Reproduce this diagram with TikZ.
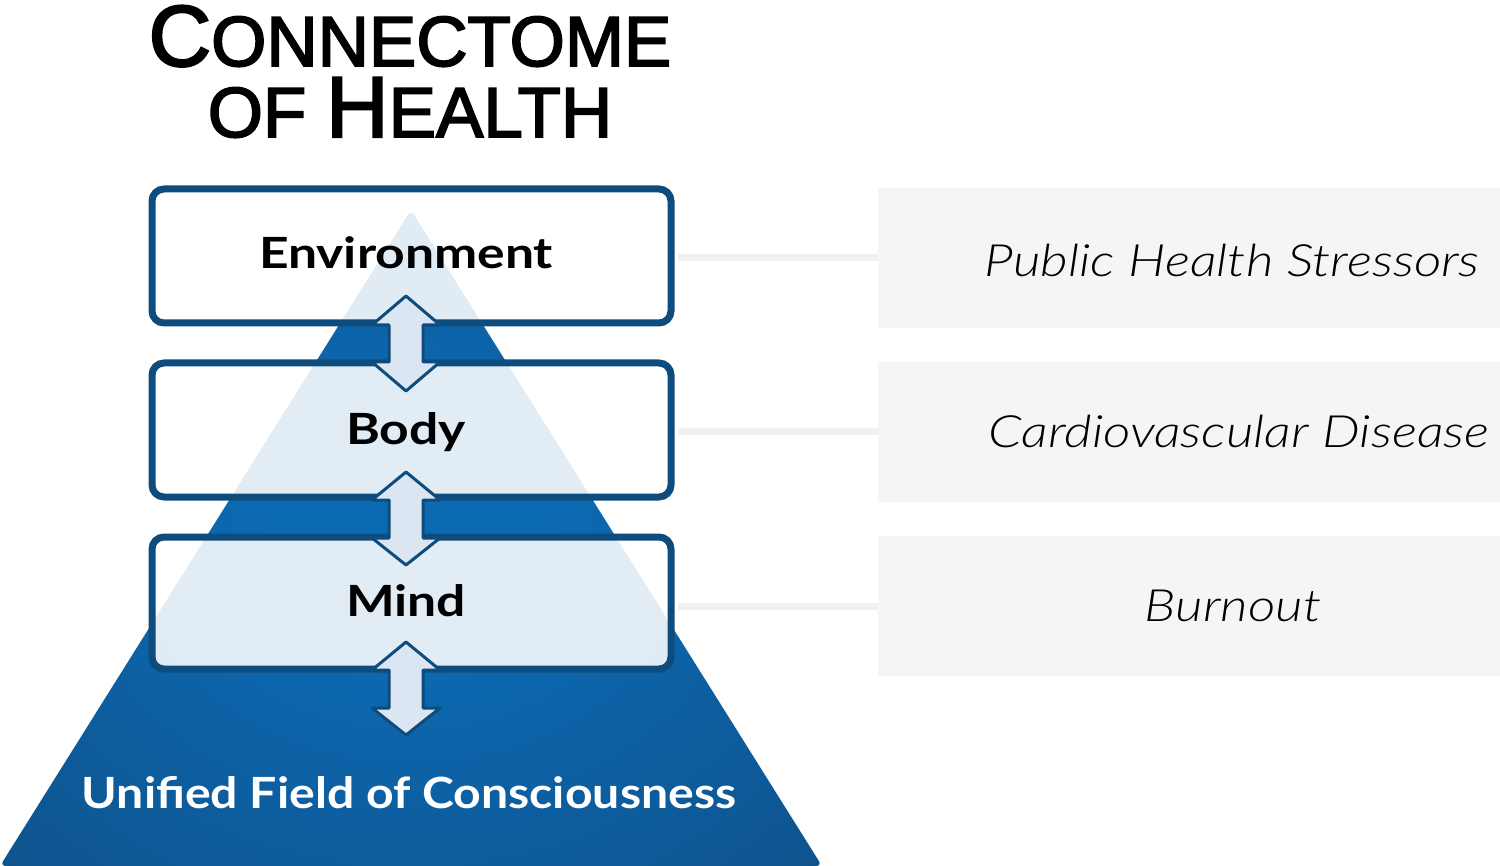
\documentclass[tikz,border=0pt]{standalone}
\usepackage{fontspec}
\setmainfont{Lato}
\newfontfamily\titlefont{Liberation Sans}[BoldFont={Liberation Sans}, BoldFeatures={FakeBold=2.5}]
\newfontfamily\lightit{Lato Light Italic}
\definecolor{navy}{HTML}{0F4C7E}
\definecolor{pin}{HTML}{0C6AB3}
\definecolor{pmid}{HTML}{0F4F87}
\definecolor{pout}{HTML}{12416B}
\definecolor{arrfill}{HTML}{DCE6F3}
\definecolor{grayfill}{HTML}{F4F5F7}
\definecolor{connc}{HTML}{EFF1F3}
\pgfdeclareradialshading{pyrshade}{\pgfpoint{0bp}{0bp}}{color(0bp)=(pin); color(8bp)=(pin); color(40bp)=(pmid); color(72bp)=(pout)}
\newcommand\hstretch[2]{\scalebox{#1}[1]{#2}}
\tikzset{
  layerbox/.style={draw=navy, line width=7pt, rounded corners=12pt, fill=white, fill opacity=0.88, text opacity=1, inner sep=0pt},
  labeltxt/.style={font=\bfseries\fontsize{43}{45}\selectfont, text=black, anchor=base, inner sep=0pt},
  grayrect/.style={fill=grayfill, draw=none, inner sep=0pt},
  sidetxt/.style={font=\lightit\fontsize{44.5}{46}\selectfont, text=black, anchor=base, inner sep=0pt},
  connline/.style={draw=connc, line width=7pt},
  arrowsty/.style={draw=navy, fill=arrfill, line width=3pt, line join=round},
  titletxt/.style={anchor=base, inner sep=0pt, font=\titlefont\bfseries}
}
\newcommand\dblarr[5]{\draw[arrowsty] (#1,#2) -- (#1+34,#3) -- (#1+17,#3) -- (#1+17,#4) -- (#1+34,#4) -- (#1,#5) -- (#1-34,#4) -- (#1-17,#4) -- (#1-17,#3) -- (#1-34,#3) -- cycle;}
\begin{document}
\begin{tikzpicture}[x=1pt,y=-1pt]
\useasboundingbox (0,0) rectangle (1500,866);
% title
\node[titletxt] (title1) at (410,66) {\fontsize{86.6}{88}\selectfont C\fontsize{71}{72}\selectfont ONNECTOME};
\node[titletxt] (title2) at (410,137) {\fontsize{71}{72}\selectfont OF \fontsize{86.6}{88}\selectfont H\fontsize{71}{72}\selectfont EALTH};
% pyramid
\shade[shading=pyrshade, rounded corners=6pt] (411,210) -- (822,866) -- (0,866) -- cycle;
% right boxes
\node[grayrect, minimum width=622pt, minimum height=140pt] (r1) at (1189,258) {};
\node[grayrect, minimum width=622pt, minimum height=140pt] (r2) at (1189,432) {};
\node[grayrect, minimum width=622pt, minimum height=140pt] (r3) at (1189,606) {};
% layer boxes
\node[layerbox, minimum width=519pt, minimum height=134pt] (env) at (411.5,256) {};
\node[layerbox, minimum width=519pt, minimum height=134pt] (body) at (411.5,430) {};
\node[layerbox, minimum width=519pt, minimum height=132pt] (mind) at (411.5,603) {};
% connectors
\draw[connline] (r1.west -| env.east) ++(3.5,0) -- (r1.west);
\draw[connline] (r2.west -| body.east) ++(3.5,0) -- (r2.west);
\draw[connline] (r3.west -| mind.east) ++(3.5,0) -- (r3.west);
% arrows
\dblarr{406}{296}{325}{362}{391}
\dblarr{406}{472}{500}{538}{565}
\dblarr{406}{642}{670}{708}{735}
% labels
\node[labeltxt] (envt) at (406,269) {\hstretch{1.2}{Environment}};
\node[labeltxt] (bodyt) at (406,445) {\hstretch{1.2}{Body}};
\node[labeltxt] (mindt) at (406,616) {\hstretch{1.2}{Mind}};
\node[labeltxt, text=white] (uf) at (409,808) {\hstretch{1.12}{Unified Field of Consciousness}};
\node[sidetxt] (s1) at (1232,277) {\hstretch{1.2}{Public Health Stressors}};
\node[sidetxt] (s2) at (1239,448) {\hstretch{1.2}{Cardiovascular Disease}};
\node[sidetxt] (s3) at (1233,621) {\hstretch{1.2}{Burnout}};
\end{tikzpicture}
\end{document}
